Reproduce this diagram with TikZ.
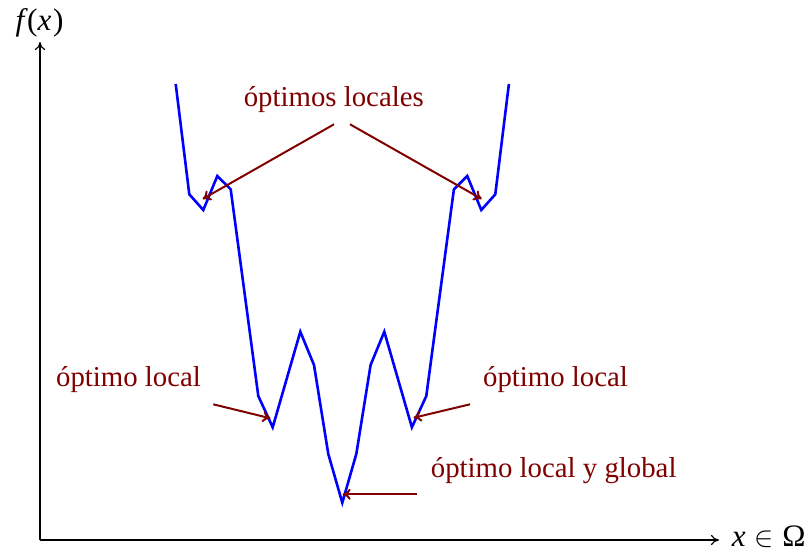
\documentclass[tikz,border=0pt]{standalone}
\usepackage{fontspec}
\setmainfont{Liberation Serif}
\usetikzlibrary{arrows.meta}
\begin{document}
\begin{tikzpicture}[x=0.5pt,y=-0.5pt,
  axis/.style={line width=0.6pt,-{To[length=4pt,width=5pt]}},
  curve/.style={blue,line width=1.3pt,line join=miter},
  lbl/.style={text=darkred,inner sep=0pt,anchor=base,font=\fontsize{14.4}{17}\selectfont},
  ptr/.style={darkred,line width=1pt,-{To[length=4pt,width=5.5pt]}},
  axlbl/.style={inner sep=0pt,font=\fontsize{15.6}{18}\selectfont}]
\definecolor{darkred}{rgb}{0.5,0,0}
\useasboundingbox (0,0) rectangle (809,554);
% axes
\coordinate (o) at (40,540);
\coordinate (ytip) at (40,42);
\coordinate (xtip) at (719,540);
\draw[axis] (o) -- (ytip);
\draw[axis] (o) -- (xtip);
\node[axlbl,anchor=base] (fx) at (39.5,30) {\textit{f\kern1.5pt}(\textit{x\kern0.8pt})};
\node[axlbl,anchor=base west] (xo) at (731.5,546) {\textit{x}\hspace{0.28em}$\in$\hspace{0.28em}Ω};
% curve
\draw[curve] (175.7,84) -- (189.3,194.3) -- (203.3,210) coordinate (m1) -- (217.3,176) -- (230.7,189.3)
  -- (244.5,292.5) -- (258.3,396) -- (272.7,427.3) coordinate (m2) -- (286.5,379.5) -- (300.3,331.7)
  -- (314,365) -- (328.3,454) -- (342.3,502.7) coordinate (m3) -- (356.3,454) -- (370.6,365)
  -- (384.3,331.7) -- (398.1,379.5) -- (411.9,427.3) coordinate (m4) -- (426.3,396) -- (440.1,292.5)
  -- (453.9,189.3) -- (467.3,176) -- (481.3,210) coordinate (m5) -- (495.3,194.3) -- (508.9,84);
% labels
\node[lbl] (top) at (333.8,106) {óptimos locales};
\node[lbl] (left) at (128.5,386.7) {óptimo local};
\node[lbl] (right) at (555.5,386.7) {óptimo local};
\node[lbl] (bottom) at (553.7,477.7) {óptimo local y global};
% pointer starts
\coordinate (s1) at (334,124.3);
\coordinate (s2) at (350,124.3);
\coordinate (s3) at (213.3,404.3);
\coordinate (s4) at (470,404.3);
\coordinate (s5) at (417,494.3);
\coordinate (e1) at (202.7,199);
\coordinate (e2) at (481.7,199);
\coordinate (e3) at (270.5,418.3);
\coordinate (e4) at (413.5,417.8);
\coordinate (e5) at (342.7,494.3);
\draw[ptr] (s1) -- (e1);
\draw[ptr] (s2) -- (e2);
\draw[ptr] (s3) -- (e3);
\draw[ptr] (s4) -- (e4);
\draw[ptr] (s5) -- (e5);
\end{tikzpicture}
\end{document}
